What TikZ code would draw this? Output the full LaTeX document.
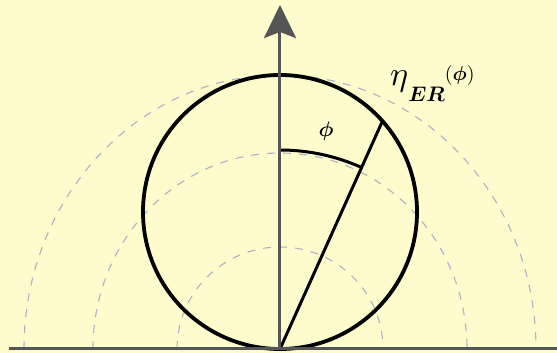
\documentclass[tikz,border=0pt]{standalone}
\usepackage{bm}
\usepackage{graphicx}
\usepackage{tikz}
\usetikzlibrary{arrows.meta,positioning}
\definecolor{BgYellow}{RGB}{253,252,205}
\definecolor{AxisGray}{RGB}{85,85,85}
\definecolor{LobeGray}{RGB}{170,178,200}
\begin{document}
\begin{tikzpicture}[x=1pt,y=1pt,
        lobe/.style={draw=LobeGray,dash pattern=on 8pt off 8pt,line width=1.1pt},
        axisline/.style={draw=AxisGray,line width=3pt},
        arr/.style={-{Stealth[length=33pt,width=32pt,inset=6pt]},AxisGray,line width=3pt},
        curve/.style={draw=black,line width=3.8pt},
        ray/.style={draw=black,line width=3pt},
        lbl/.style={inner sep=0pt}
      ]
        \fill[BgYellow] (-280,-4) rectangle (277,349);
        \useasboundingbox (-280,-4) rectangle (277,349);
        \coordinate (O) at (0,0);
        \coordinate (T) at (0,344);
        \coordinate (C) at (0,137);
        \coordinate (P) at (102.5,228);
        \coordinate (L) at (-271,0);
        \coordinate (R) at (277,0);
        % radiation pattern levels
        \draw[lobe] (-103,0) arc[start angle=180,end angle=0,x radius=103,y radius=102];
        \draw[lobe] (-187,0) arc[start angle=180,end angle=0,x radius=187,y radius=196];
        \draw[lobe] (-256,0) arc[start angle=180,end angle=0,x radius=256,y radius=274];
        \draw[curve] (C) circle[radius=137];
        \draw[ray] (O)--(P);
        \draw[ray] (0,199) arc[start angle=90,end angle=65.8,radius=199];
        \draw[arr] (O)--(T);
        \draw[axisline] (L)--(R);
        \node[lbl] (phi) at (46,218) {\scalebox{2.1}{$\bm{\phi}$}};
        \node[lbl,anchor=base west] (eta) at (110,263)
          {\scalebox{3.4}{$\eta$}\raisebox{-16pt}{\scalebox{2.1}{$\bm{ER}$}}\raisebox{5pt}{\scalebox{2.0}{$(\bm{\phi})$}}};
      \end{tikzpicture}
\end{document}
